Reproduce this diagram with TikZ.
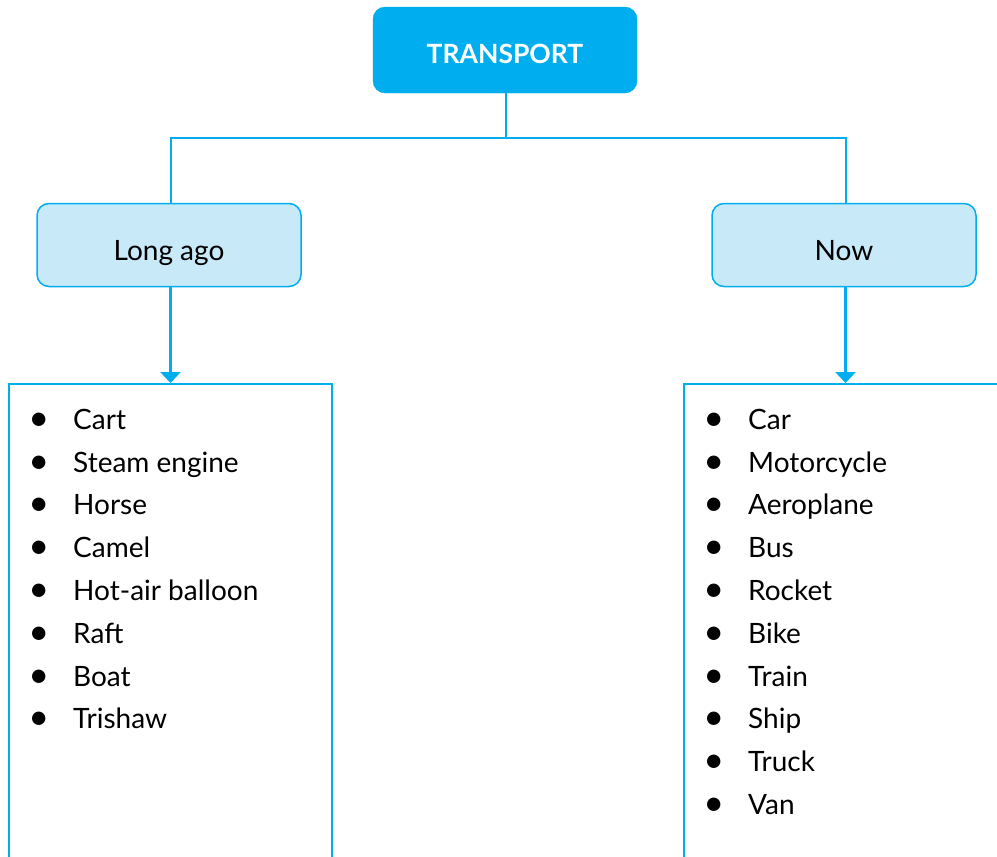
\documentclass[tikz,border=0pt]{standalone}
\usepackage{fontspec}
\setmainfont{Lato}
\usepackage{tikz}
\usetikzlibrary{arrows.meta}
\definecolor{cyanline}{HTML}{00AEEF}
\definecolor{cyanpale}{HTML}{C8E9F8}
\tikzstyle{topbox}=[shape=rectangle,rounded corners=12pt,fill=cyanline,draw=cyanline,text=white,minimum width=264pt,minimum height=86pt,text height=26pt,text depth=0pt,font=\bfseries\fontsize{26.5}{30}\selectfont]
\tikzstyle{agebox}=[shape=rectangle,rounded corners=12pt,fill=cyanpale,draw=cyanline,line width=1.5pt,minimum width=264pt,minimum height=83pt,text height=36pt,text depth=6pt,font=\fontsize{28}{34}\selectfont]
\tikzstyle{listbox}=[shape=rectangle,draw=cyanline,line width=1.8pt,minimum width=323pt,minimum height=520pt,anchor=north west]
\tikzstyle{item}=[anchor=base west,inner sep=0pt,font=\fontsize{28}{34}\selectfont,execute at begin node={\llap{\raisebox{-1.5pt}{\fontsize{36}{36}\selectfont\textbullet}\hspace{24pt}}}]
\tikzstyle{link}=[draw=cyanline,line width=2.6pt]
\tikzstyle{to}=[-{Triangle[width=20pt,length=11pt]},draw=cyanline,line width=2.6pt]

\begin{document}
\begin{tikzpicture}[x=1pt,y=-1pt]
            \clip (0,0) rectangle (997,857);
            \node[topbox] (T) at (505,50) {TRANSPORT}
            ;
            \node[agebox] (L) at (169,245) {Long ago}
            ;
            \node[agebox] (N) at (844,245) {Now}
            ;
            \coordinate (J) at (506,138);
            \draw[link] (J |- T.south) -- (J) -| ([xshift=2pt]L.north);
            \draw[link] (J) -| ([xshift=2pt]N.north);
            \node[listbox] (LL) at (8,383) {}
            ;
            \node[listbox] (NL) at (683,383) {}
            ;
            \draw[to] ([xshift=1.5pt]L.south) -- ([xshift=1.5pt]L.south |- LL.north);
            \draw[to] ([xshift=1.5pt]N.south) -- ([xshift=1.5pt]N.south |- NL.north);
            % long ago
            \node[item] (l1) at (73,429) {Cart};
            \node[item] (l2) at (73,472) {Steam engine};
            \node[item] (l3) at (73,514) {Horse};
            \node[item] (l4) at (73,557) {Camel};
            \node[item] (l5) at (73,600) {Hot-air balloon};
            \node[item] (l6) at (73,643) {Raft};
            \node[item] (l7) at (73,686) {Boat};
            \node[item] (l8) at (73,728) {Trishaw};
            % now
            \node[item] (n1) at (748,429) {Car};
            \node[item] (n2) at (748,472) {Motorcycle};
            \node[item] (n3) at (748,514) {Aeroplane};
            \node[item] (n4) at (748,557) {Bus};
            \node[item] (n5) at (748,600) {Rocket};
            \node[item] (n6) at (748,643) {Bike};
            \node[item] (n7) at (748,686) {Train};
            \node[item] (n8) at (748,728) {Ship};
            \node[item] (n9) at (748,771) {Truck};
            \node[item] (n10) at (748,814) {Van};
        \end{tikzpicture}
\end{document}
